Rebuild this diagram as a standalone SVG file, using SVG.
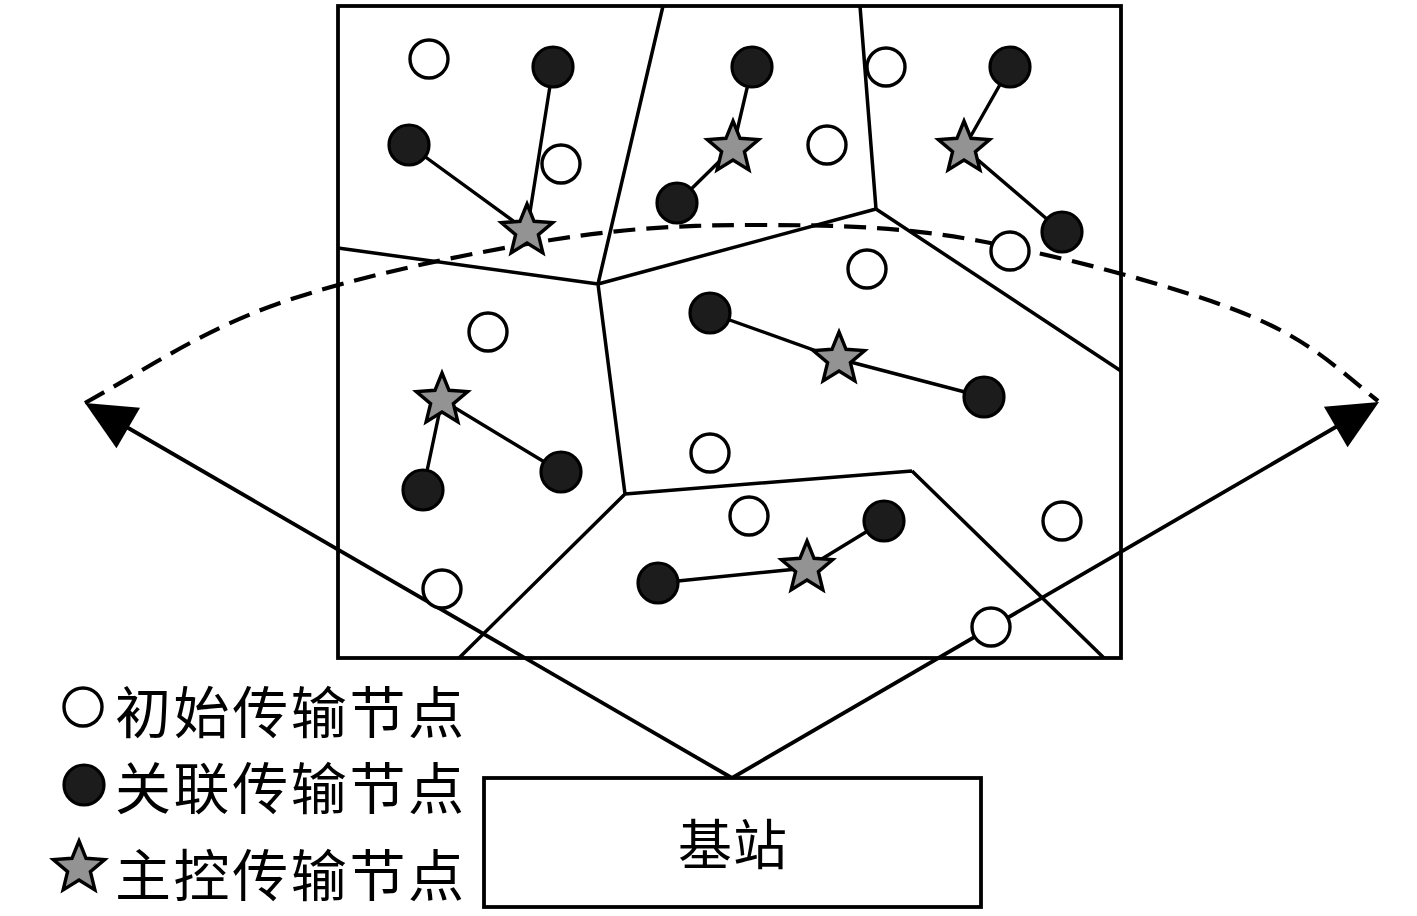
<svg xmlns="http://www.w3.org/2000/svg" xmlns:xlink="http://www.w3.org/1999/xlink" width="1417" height="916" viewBox="0 0 1417 916">
<style>
.edge{stroke:#000;stroke-width:3.5;fill:none}
.frame{stroke:#000;stroke-width:3.8;fill:none}
.link{stroke:#000;stroke-width:3.4;fill:none}
.arrow{stroke:#000;stroke-width:3.8;fill:none}
.dash{stroke:#000;stroke-width:4.2;fill:none;stroke-dasharray:22 11}
.open{fill:#fff;stroke:#000;stroke-width:3.4}
.fill{fill:#1c1c1c;stroke:#000;stroke-width:3.2}
.star{fill:#939393;stroke:#000;stroke-width:3.4;stroke-linejoin:miter}
.txt{font-family:"Noto Sans CJK SC","Noto Sans CJK JP",sans-serif;fill:#000}
</style>
<defs>
<polygon id="starshape" points="0,-27 7.05,-9.7 25.68,-8.34 11.41,3.71 15.87,21.84 0,12 -15.87,21.84 -11.41,3.71 -25.68,-8.34 -7.05,-9.7"/>
<marker id="ah" markerUnits="userSpaceOnUse" markerWidth="60" markerHeight="60" viewBox="-5 -30 60 60" refX="10" refY="0" orient="auto">
<path d="M50,0 L0,-23.5 L0,23.5 Z" fill="#000"/>
</marker>
</defs>
<rect width="1417" height="916" fill="#fff"/>

<g id="region">
<rect class="frame" x="338" y="6" width="783" height="652"/>
<path class="edge" d="M663,6 L598,284 M338,248 L598,284 M598,284 L876,209 M860,6 L876,209 M876,209 L1121,371 M598,284 L625,494 M625,494 L912,471 M912,471 L1104,658 M625,494 L459,658"/>
</g>

<g id="connectors">
<line class="arrow" x1="732" y1="778" x2="119.6" y2="423" marker-end="url(#ah)"/>
<line class="arrow" x1="732" y1="778" x2="1344.4" y2="422" marker-end="url(#ah)"/>
<path class="dash" d="M85,403 C150,367 202.3,330.2 280,303 C357.7,275.8 470.2,253 551,240 C631.8,227 693.5,224.8 765,225 C836.5,225.2 900.3,226.3 980,241 C1059.7,255.7 1176.7,286.3 1243,313 C1309.3,339.7 1333,365 1378,401"/>
<path class="link" d="M553,67 L527,231 M409,145 L527,231 M752,67 L733,148 M677,203 L733,148 M1010,67 L964,148 L1062,232 M710,313 L839,359 L984,397 M423,490 L442,400 L561,472 M658,583 L807,568 L884,521"/>
</g>

<g id="open-nodes">
<circle id="o1" class="open" cx="429" cy="59" r="19"/>
<circle id="o2" class="open" cx="561" cy="164" r="19"/>
<circle id="o3" class="open" cx="827" cy="145" r="19"/>
<circle id="o4" class="open" cx="886" cy="67" r="19"/>
<circle id="o5" class="open" cx="1010" cy="251" r="19"/>
<circle id="o6" class="open" cx="867" cy="269" r="19"/>
<circle id="o7" class="open" cx="488" cy="332" r="19"/>
<circle id="o8" class="open" cx="710" cy="453" r="19"/>
<circle id="o9" class="open" cx="442" cy="589" r="19"/>
<circle id="o10" class="open" cx="749" cy="516" r="19"/>
<circle id="o11" class="open" cx="1062" cy="521" r="19"/>
<circle id="o12" class="open" cx="991" cy="627" r="19"/>
</g>

<g id="filled-nodes">
<circle id="f1" class="fill" cx="553" cy="67" r="20"/>
<circle id="f2" class="fill" cx="409" cy="145" r="20"/>
<circle id="f3" class="fill" cx="677" cy="203" r="20"/>
<circle id="f4" class="fill" cx="752" cy="67" r="20"/>
<circle id="f5" class="fill" cx="1010" cy="67" r="20"/>
<circle id="f6" class="fill" cx="1062" cy="232" r="20"/>
<circle id="f7" class="fill" cx="710" cy="313" r="20"/>
<circle id="f8" class="fill" cx="984" cy="397" r="20"/>
<circle id="f9" class="fill" cx="423" cy="490" r="20"/>
<circle id="f10" class="fill" cx="561" cy="472" r="20"/>
<circle id="f11" class="fill" cx="658" cy="583" r="20"/>
<circle id="f12" class="fill" cx="884" cy="521" r="20"/>
</g>

<g id="star-nodes">
<use id="s1" class="star" href="#starshape" x="527" y="231"/>
<use id="s2" class="star" href="#starshape" x="733" y="148"/>
<use id="s3" class="star" href="#starshape" x="964" y="148"/>
<use id="s4" class="star" href="#starshape" x="442" y="400"/>
<use id="s5" class="star" href="#starshape" x="839" y="359"/>
<use id="s6" class="star" href="#starshape" x="807" y="568"/>
</g>

<g id="base-station">
<rect class="frame" x="484" y="778" width="497" height="129" fill="#fff"/>
<text class="txt" x="733" y="841" font-size="54" letter-spacing="1" text-anchor="middle" dominant-baseline="central">基站</text>
</g>

<g id="legend-initial">
<circle class="open" cx="83" cy="707" r="19"/>
<text class="txt" x="115" y="708" font-size="56" letter-spacing="2.6" dominant-baseline="central">初始传输节点</text>
</g>
<g id="legend-assoc">
<circle class="fill" cx="84" cy="785" r="20"/>
<text class="txt" x="115" y="784" font-size="56" letter-spacing="2.6" dominant-baseline="central">关联传输节点</text>
</g>
<g id="legend-master">
<use class="star" href="#starshape" x="79" y="868"/>
<text class="txt" x="115" y="871" font-size="56" letter-spacing="2.6" dominant-baseline="central">主控传输节点</text>
</g>
</svg>
